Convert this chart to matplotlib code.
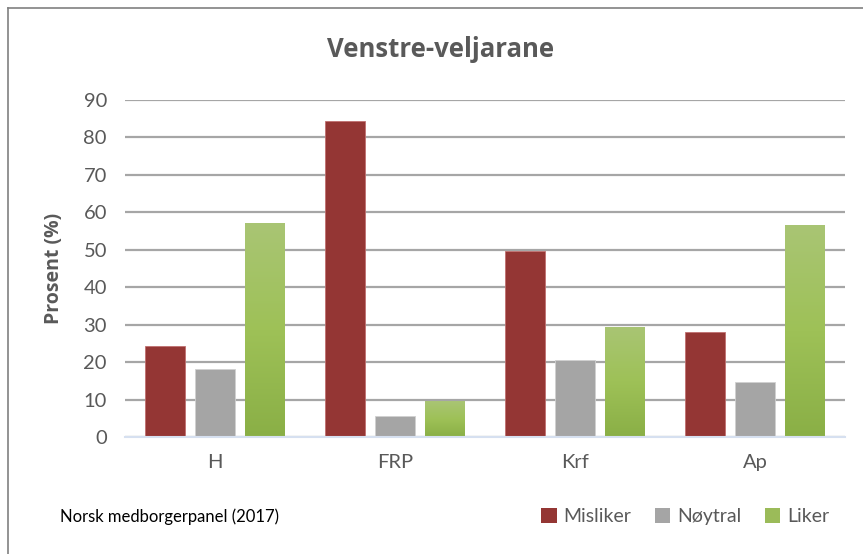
import numpy as np
import matplotlib.pyplot as plt
from matplotlib.colors import LinearSegmentedColormap
from matplotlib.lines import Line2D
from matplotlib.patches import Patch

partier = ["H", "FRP", "Krf", "Ap"]
misliker = [24.3, 84.5, 49.8, 28.1]
noytral = [18.2, 5.6, 20.6, 14.8]
liker = [57.1, 9.6, 29.4, 56.6]
serier = ["Misliker", "Nøytral", "Liker"]
yticks = [0, 10, 20, 30, 40, 50, 60, 70, 80, 90]

raud = "#943634"
graa = "#a5a5a5"
gronn = "#9bbb59"
tekst = "#595959"

fig = plt.figure(figsize=(8.63, 5.54), dpi=100)
ax = fig.add_axes([0.1449, 0.2112, 0.8343, 0.6083])

x = np.arange(len(partier))
b = 0.222
steg = 0.278

ax.bar(x - steg, misliker, b, color=raud, edgecolor="#c07070", linewidth=0.6, zorder=3)
ax.bar(x, noytral, b, color=graa, edgecolor="#d0d0d0", linewidth=0.6, zorder=3)
gbars = ax.bar(x + steg, liker, b, color="none", edgecolor="none", zorder=3)

# gradient i dei grøne stolpane
cmap = LinearSegmentedColormap.from_list("g", ["#8aaf46", "#9ec157", "#a9c574"])
grad = np.linspace(0, 1, 256).reshape(-1, 1)
for bar in gbars:
    x0, y0 = bar.get_x(), bar.get_y()
    w, h = bar.get_width(), bar.get_height()
    im = ax.imshow(grad, cmap=cmap, origin="lower", aspect="auto",
                   extent=[x0, x0 + w, y0, y0 + h], zorder=3)
    im.set_clip_path(bar)

ax.set_xlim(-0.5, 3.5)
ax.set_ylim(0, 90)
ax.set_yticks(yticks)
ax.set_xticks(x)
ax.set_xticklabels(partier)
ax.yaxis.grid(True, color="#a6a6a6", linewidth=1.6, zorder=0)
ax.set_axisbelow(True)
for s in ["top", "right", "left"]:
    ax.spines[s].set_visible(False)
ax.spines["bottom"].set_color("#d6e0f0")
ax.spines["bottom"].set_linewidth(1.5)
ax.spines["bottom"].set_zorder(4)
ax.tick_params(axis="both", length=0, labelsize=14.5, labelcolor=tekst)
ax.tick_params(axis="y", pad=13)
ax.tick_params(axis="x", pad=12)
for t in ax.get_xticklabels() + ax.get_yticklabels():
    t.set_fontfamily("Lato")

ax.set_ylabel("Prosent (%)", fontsize=14, fontweight="bold", color=tekst,
              fontfamily="Open Sans", labelpad=14)

fig.text(0.51, 0.91, "Venstre-veljarane", ha="center", va="center",
         fontsize=18.5, fontweight="bold", color=tekst, fontfamily="Open Sans")

fig.text(0.0695, 0.067, "Norsk medborgerpanel (2017)", ha="left", va="center",
         fontsize=12, color="black", fontfamily="Lato")

handles = [Patch(facecolor=c, edgecolor="none") for c in [raud, graa, gronn]]
leg = fig.legend(handles, serier, loc="center", bbox_to_anchor=(0.794, 0.067),
                 ncol=3, frameon=False, handlelength=0.8, handleheight=0.8,
                 handletextpad=0.35, columnspacing=1.2,
                 prop={"family": "Lato", "size": 14})
for t in leg.get_texts():
    t.set_color(tekst)

# ramme rundt figuren
fig.add_artist(Line2D([8 / 863, 8 / 863], [0, 1 - 8 / 554], transform=fig.transFigure,
                      color="#808080", linewidth=1.2))
fig.add_artist(Line2D([8 / 863, 1], [1 - 8 / 554, 1 - 8 / 554], transform=fig.transFigure,
                      color="#808080", linewidth=1.2))

fig.savefig("out.png", dpi=100)
